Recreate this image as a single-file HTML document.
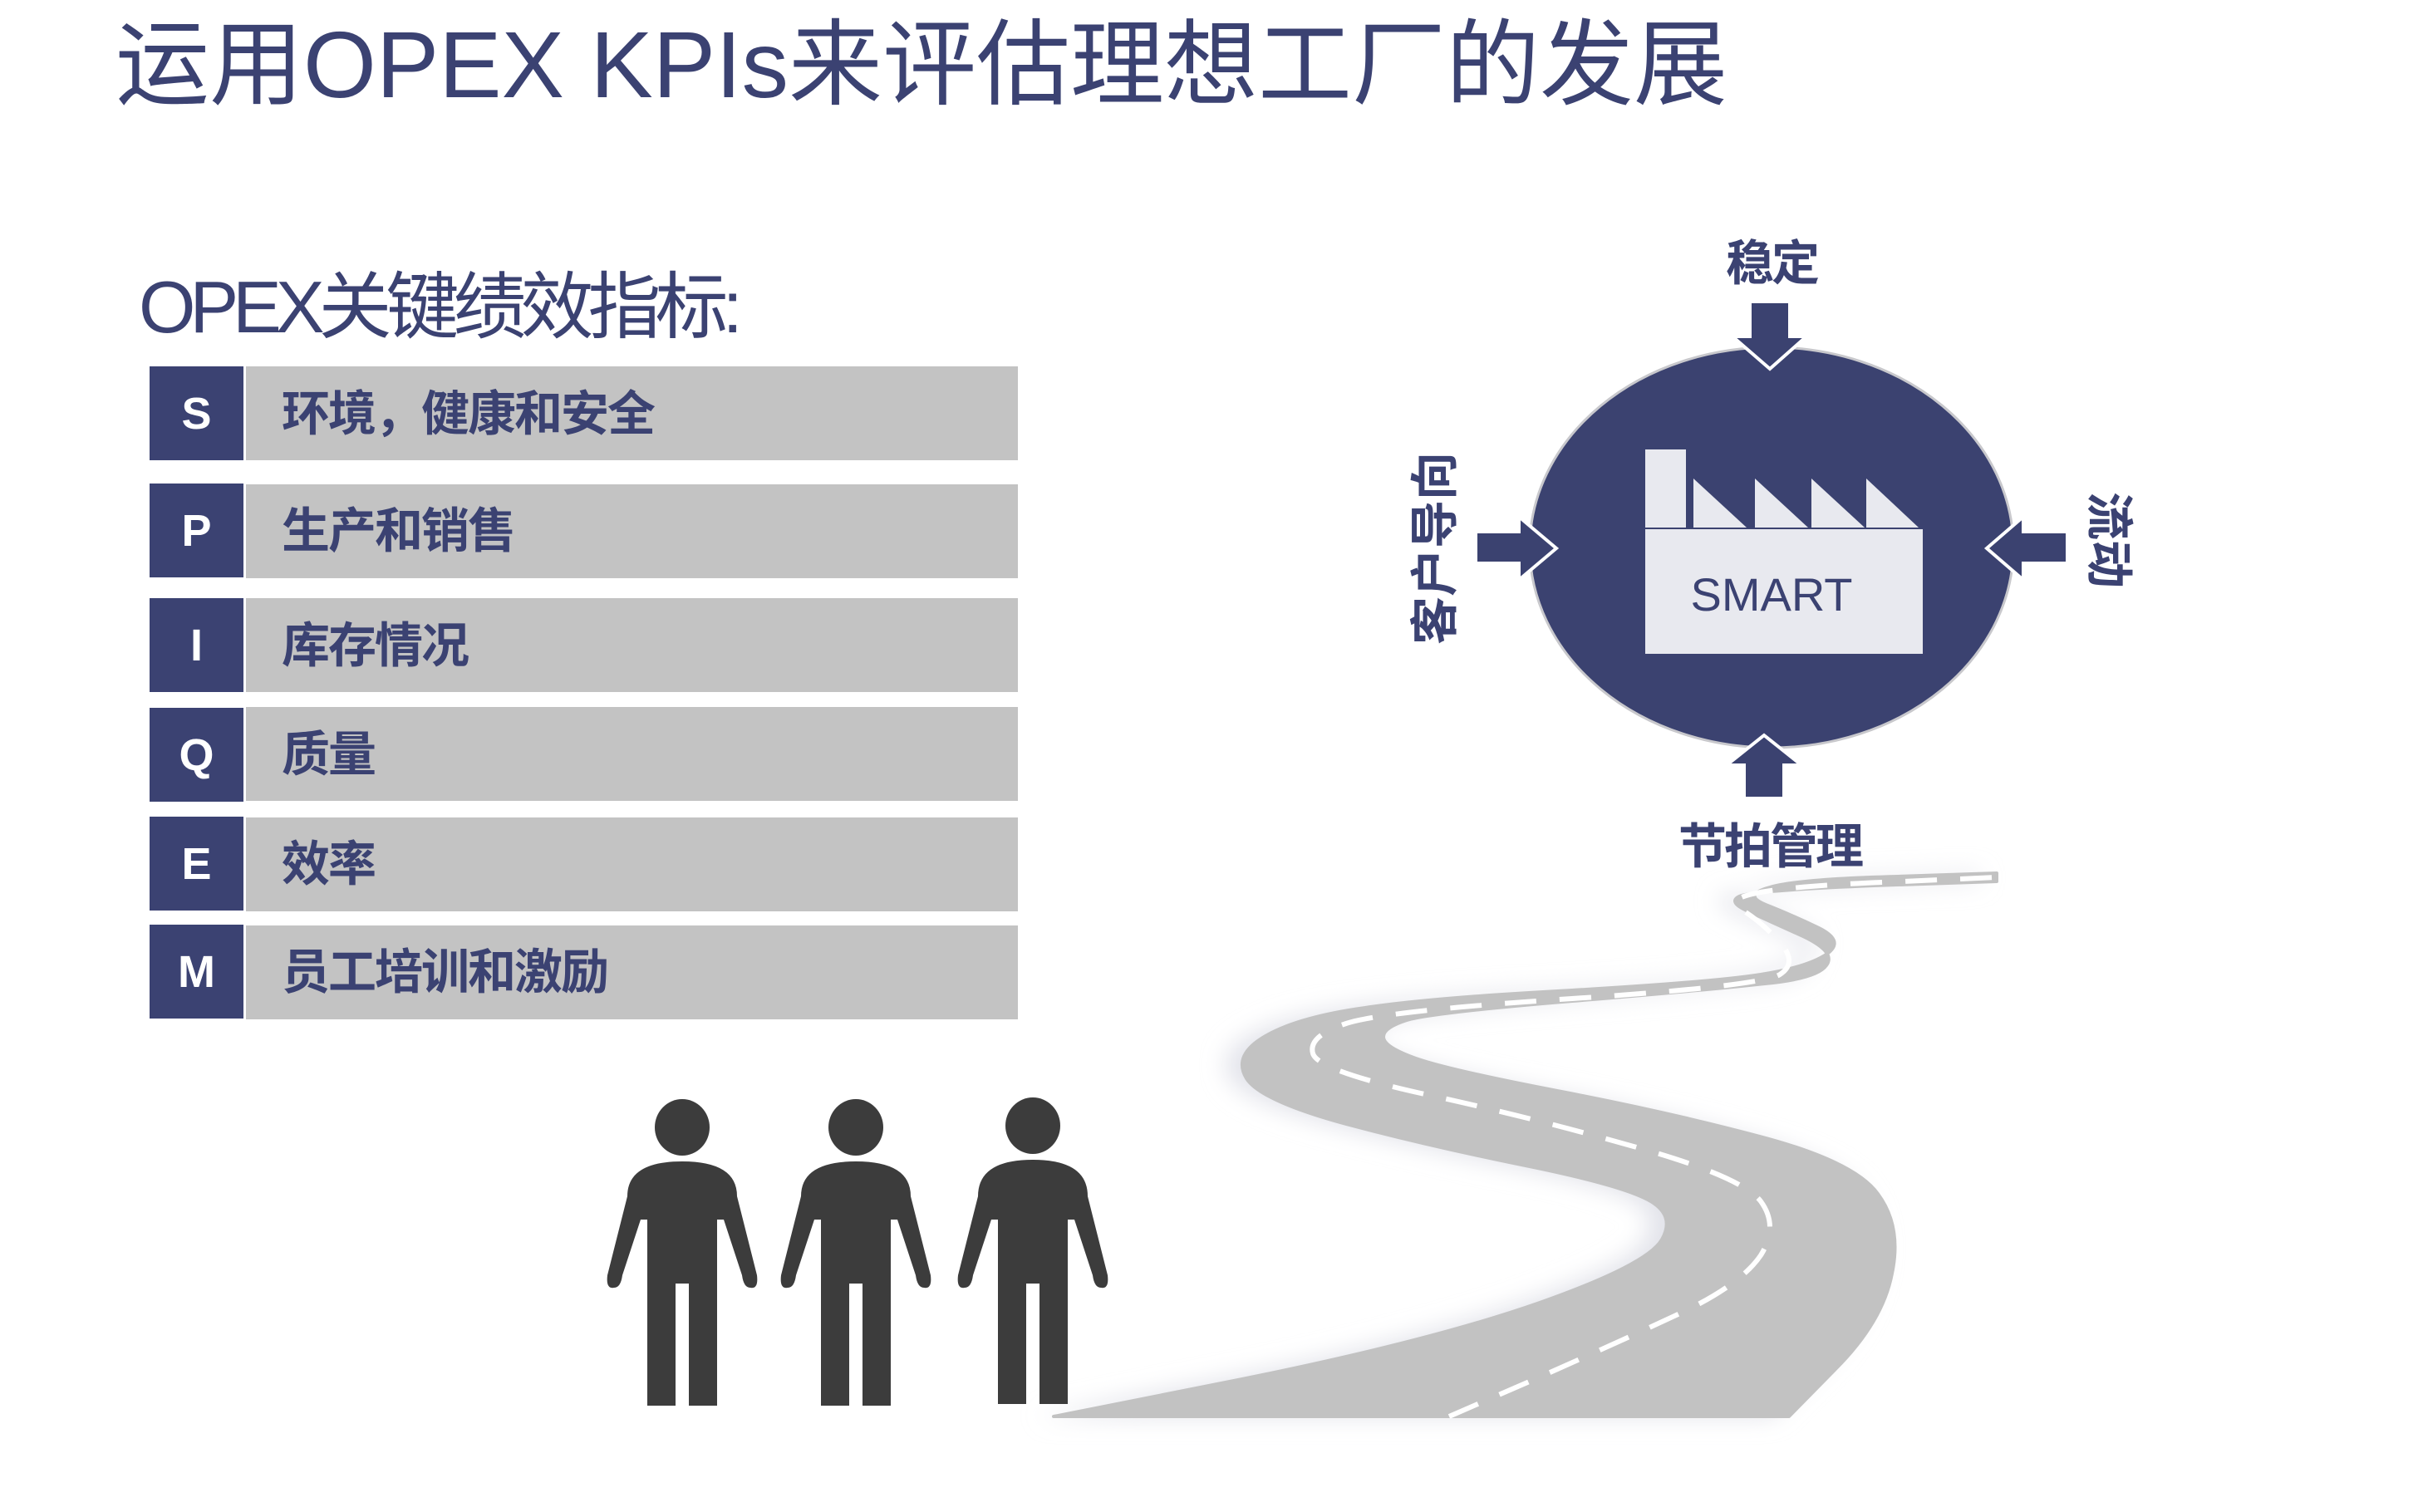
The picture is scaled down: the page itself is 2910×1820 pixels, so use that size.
<!DOCTYPE html>
<html><head><meta charset="utf-8"><style>
body{margin:0;width:2910px;height:1820px;background:#fff;position:relative;overflow:hidden;font-family:"Liberation Sans","Noto Sans CJK SC",sans-serif;}
.a{position:absolute;white-space:nowrap;line-height:1;}
.nb{position:absolute;left:180px;width:113px;height:113px;background:#3b4272;color:#fff;font:bold 54px "Liberation Sans",sans-serif;display:flex;align-items:center;justify-content:center;}
.gb{position:absolute;left:296px;width:929px;height:113px;background:#c3c3c3;}
.rt{position:absolute;left:339px;color:#3b4272;font-weight:bold;font-size:58px;letter-spacing:-2px;line-height:1;}
.lab{position:absolute;color:#3b4272;font-weight:bold;font-size:58px;letter-spacing:-3px;line-height:1;white-space:nowrap;}
</style></head><body>
<div class="a" style="left:139px;top:22px;font-size:113px;color:#3b4272;">运用OPEX KPIs来评估理想工厂的发展</div>
<div class="a" style="left:167px;top:326px;font-size:88px;letter-spacing:-7px;color:#3b4272;">OPEX关键绩效指标:</div>

<div class="nb" style="top:441px">S</div><div class="gb" style="top:441px"></div><div class="rt" style="top:470px">环境，健康和安全</div>
<div class="nb" style="top:582px">P</div><div class="gb" style="top:583px"></div><div class="rt" style="top:611px">生产和销售</div>
<div class="nb" style="top:720px">I</div><div class="gb" style="top:720px"></div><div class="rt" style="top:749px">库存情况</div>
<div class="nb" style="top:852px">Q</div><div class="gb" style="top:851px"></div><div class="rt" style="top:880px">质量</div>
<div class="nb" style="top:983px">E</div><div class="gb" style="top:984px"></div><div class="rt" style="top:1012px">效率</div>
<div class="nb" style="top:1113px">M</div><div class="gb" style="top:1114px"></div><div class="rt" style="top:1142px">员工培训和激励</div>

<svg style="position:absolute;left:0;top:0" width="2910" height="1820">
<defs><filter id="bl" x="-20%" y="-20%" width="140%" height="140%"><feGaussianBlur stdDeviation="14"/></filter></defs>
<g>
<path id="rd" d="M1268,1705 L1495,1660 Q1722,1614 1853,1568 Q1983,1522 2000,1492 Q2017,1462 1983,1444 Q1949,1426 1836,1403 Q1722,1380 1620,1353 Q1517,1325 1500,1298 Q1483,1270 1523,1247 Q1563,1224 1643,1213 Q1722,1201 1892,1192 Q2062,1182 2119,1173 Q2176,1164 2199,1148 Q2221,1132 2187,1116 Q2153,1100 2125,1089 Q2096,1077 2130,1068 Q2164,1058 2284,1055 L2403,1051 L2403,1061 L2255,1066 Q2107,1072 2093,1079 Q2079,1086 2104,1097 Q2130,1109 2170,1127 Q2210,1146 2198,1162 Q2187,1178 2124,1184 Q2062,1191 1892,1205 Q1722,1219 1693,1228 Q1665,1237 1665,1248 Q1665,1260 1704,1274 Q1744,1288 1874,1313 Q2005,1338 2118,1368 Q2232,1398 2260,1437 Q2289,1476 2277,1533 Q2266,1591 2209,1648 L2153,1705 Z" fill="#e2e3ea" filter="url(#bl)" transform="translate(-20,0)"/>
<path d="M1268,1705 L1495,1660 Q1722,1614 1853,1568 Q1983,1522 2000,1492 Q2017,1462 1983,1444 Q1949,1426 1836,1403 Q1722,1380 1620,1353 Q1517,1325 1500,1298 Q1483,1270 1523,1247 Q1563,1224 1643,1213 Q1722,1201 1892,1192 Q2062,1182 2119,1173 Q2176,1164 2199,1148 Q2221,1132 2187,1116 Q2153,1100 2125,1089 Q2096,1077 2130,1068 Q2164,1058 2284,1055 L2403,1051 L2403,1061 L2255,1066 Q2107,1072 2093,1079 Q2079,1086 2104,1097 Q2130,1109 2170,1127 Q2210,1146 2198,1162 Q2187,1178 2124,1184 Q2062,1191 1892,1205 Q1722,1219 1693,1228 Q1665,1237 1665,1248 Q1665,1260 1704,1274 Q1744,1288 1874,1313 Q2005,1338 2118,1368 Q2232,1398 2260,1437 Q2289,1476 2277,1533 Q2266,1591 2209,1648 L2153,1705 Z" fill="#c2c2c2" stroke="#c2c2c2" stroke-width="4" stroke-linejoin="round"/>
<path d="M1744,1705 L1852,1658 Q1960,1610 2028,1578 Q2096,1545 2119,1511 Q2141,1476 2119,1446 Q2096,1416 1966,1380 Q1835,1343 1710,1316 Q1585,1288 1580,1268 Q1574,1247 1620,1232 Q1665,1217 1892,1202 Q2119,1187 2142,1173 Q2164,1159 2142,1134 Q2119,1109 2096,1095 Q2073,1081 2125,1073 Q2176,1065 2290,1061 L2403,1056" fill="none" stroke="#fff" stroke-width="6" stroke-dasharray="38,28"/>
</g>
<g fill="#3c3c3c">
<g transform="translate(821,0)"><ellipse cx="0" cy="1357" rx="33" ry="34"/><path d="M-66,1440 Q-66,1398 0,1398 Q66,1398 66,1440 L90,1535 Q92,1552 82,1550 Q74,1550 72,1535 L50,1468 L42,1468 L42,1692 L8,1692 L8,1545 L-8,1545 L-8,1692 L-42,1692 L-42,1468 L-50,1468 L-72,1535 Q-74,1550 -82,1550 Q-92,1552 -90,1535 Z"/></g>
<g transform="translate(1030,0)"><ellipse cx="0" cy="1357" rx="33" ry="34"/><path d="M-66,1440 Q-66,1398 0,1398 Q66,1398 66,1440 L90,1535 Q92,1552 82,1550 Q74,1550 72,1535 L50,1468 L42,1468 L42,1692 L8,1692 L8,1545 L-8,1545 L-8,1692 L-42,1692 L-42,1468 L-50,1468 L-72,1535 Q-74,1550 -82,1550 Q-92,1552 -90,1535 Z"/></g>
<g transform="translate(1243,0)"><ellipse cx="0" cy="1355" rx="33" ry="34"/><path d="M-66,1440 Q-66,1396 0,1396 Q66,1396 66,1440 L90,1535 Q92,1552 82,1550 Q74,1550 72,1535 L50,1468 L42,1468 L42,1690 L8,1690 L8,1545 L-8,1545 L-8,1690 L-42,1690 L-42,1468 L-50,1468 L-72,1535 Q-74,1550 -82,1550 Q-92,1552 -90,1535 Z"/></g>
</g>
<ellipse cx="2132" cy="659" rx="291" ry="241" fill="#3b4270" stroke="#c8c8cc" stroke-width="3"/>
<g fill="#e8e9ef">
<rect x="1980" y="541" width="49" height="94"/>
<polygon points="2038,576 2102,635 2038,635"/>
<polygon points="2112,576 2176,635 2112,635"/>
<polygon points="2180,576 2244,635 2180,635"/>
<polygon points="2246,576 2309,635 2246,635"/>
<rect x="1980" y="637" width="334" height="150"/>
</g>
<text x="2132" y="735" text-anchor="middle" font-family="Liberation Sans" font-size="56" fill="#3b4272">SMART</text>
<g fill="#3b4270" stroke="#fff" stroke-width="4" stroke-linejoin="miter">
<polygon points="2106,363 2154,363 2154,405 2174,405 2130,444 2085,405 2106,405"/>
<polygon points="2099,961 2147,961 2147,921 2168,921 2123,885 2078,921 2099,921"/>
<polygon points="1776,640 1828,640 1828,622 1873,660 1828,698 1828,678 1776,678"/>
<polygon points="2488,640 2435,640 2435,622 2391,660 2435,698 2435,678 2488,678"/>
</g>
</svg>
<div class="lab" style="left:2132px;top:289px;transform:translateX(-50%)">稳定</div>
<div class="lab" style="left:2130px;top:991px;transform:translateX(-50%)">节拍管理</div>
<div class="lab" style="left:1728px;top:660px;transform:translate(-50%,-50%) rotate(-90deg);letter-spacing:0px;">客户导向</div>
<div class="lab" style="left:2537px;top:650px;transform:translate(-50%,-50%) rotate(90deg);letter-spacing:0px;">流动</div>
</body></html>
